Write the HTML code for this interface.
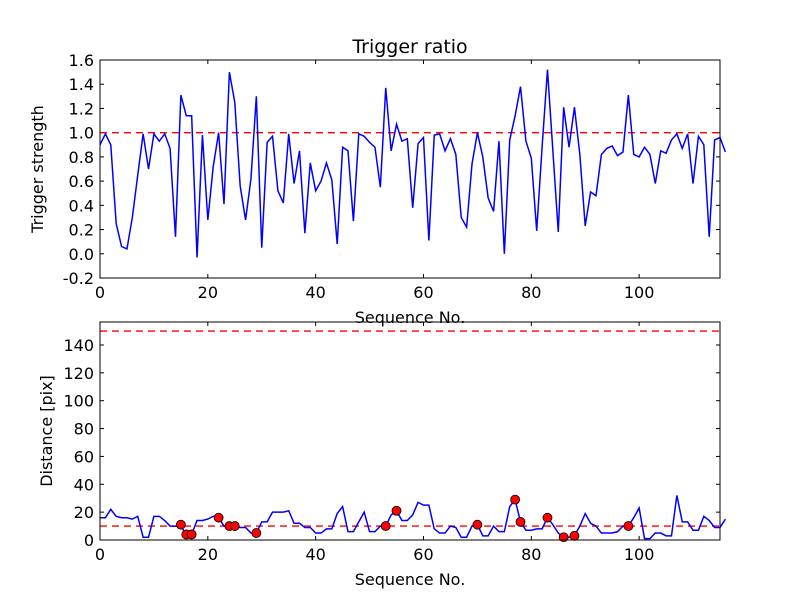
<!DOCTYPE html>
<html><head><meta charset="utf-8">
<style>
html,body{margin:0;padding:0;background:#fff;}
svg{display:block;font-family:"DejaVu Sans","Liberation Sans",sans-serif;}
</style></head>
<body>
<svg id="chart" width="800" height="600" viewBox="0 0 800 600"></svg>
<script>
const ratioValues=[0.90,0.99,0.90,0.25,0.06,0.04,0.30,0.65,0.99,0.70,0.99,0.93,0.99,0.87,0.14,1.31,1.14,1.14,-0.03,0.98,0.28,0.72,1.00,0.41,1.50,1.25,0.56,0.28,0.62,1.30,0.05,0.92,0.97,0.52,0.42,0.99,0.58,0.85,0.17,0.75,0.52,0.60,0.75,0.61,0.08,0.88,0.85,0.27,0.99,0.97,0.92,0.88,0.55,1.37,0.85,1.07,0.93,0.95,0.38,0.91,0.96,0.11,0.98,0.99,0.85,0.95,0.82,0.30,0.22,0.74,1.00,0.80,0.46,0.35,0.93,0.00,0.94,1.14,1.38,0.93,0.79,0.19,0.88,1.52,0.85,0.18,1.21,0.88,1.21,0.82,0.23,0.51,0.48,0.82,0.87,0.89,0.81,0.84,1.31,0.82,0.80,0.88,0.82,0.58,0.85,0.83,0.94,0.99,0.87,0.99,0.58,0.97,0.90,0.14,0.94,0.96,0.84];
const distValues=[16,16,22,17,16,16,15,17,2,2,17,17,14,10,10,10,4,4,14,14,15,17,16,10,10,10,9,9,5,5,13,13,20,20,20,21,12,12,9,9,5,5,8,8,19,24,6,6,13,20,6,6,10,10,18,21,14,14,18,27,25,25,8,5,5,10,9,2,2,10,11,3,3,10,6,6,24,29,13,7,7,8,8,16,11,5,2,2,3,10,19,12,10,5,5,5,6,10,10,16,23,1,1,5,5,3,3,32,13,13,7,7,17,14,9,9,15];
const markerIdx=[15,16,17,22,24,25,29,53,55,70,77,78,83,86,88,98];
const markerVals=[11,4,4,16,10,10,5,10,21,11,29,13,16,2,3,10];
const xTicks=[0,20,40,60,80,100];
const topYTicks=[-0.2,0.0,0.2,0.4,0.6,0.8,1.0,1.2,1.4,1.6];
const botYTicks=[0,20,40,60,80,100,120,140];
const ratioThreshold=1.0, distThreshold=10, distLimit=150;

const NS="http://www.w3.org/2000/svg";
const svg=document.getElementById('chart');
function mk(tag,attrs,parent,text){const e=document.createElementNS(NS,tag);for(const k in attrs)e.setAttribute(k,attrs[k]);if(text!==undefined)e.textContent=text;(parent||svg).appendChild(e);return e;}
const L=100,R=720;
const xs=v=>L+(v/115)*(R-L);
const T={top:60,bot:278,min:-0.2,max:1.6};
const B={top:322,bot:540,min:0,max:156.5};
const ys=(ax,v)=>ax.bot-(v-ax.min)/(ax.max-ax.min)*(ax.bot-ax.top);

function axes(ax,yt,fmt,name){
  const g=mk('g',{});
  
  
  xTicks.forEach(t=>{const x=xs(t);
    mk('line',{x1:x,x2:x,y1:ax.bot,y2:ax.bot-4,stroke:'#000'},g);
    mk('line',{x1:x,x2:x,y1:ax.top,y2:ax.top+4,stroke:'#000'},g);
    const tl=mk('text',{x:x,y:ax.bot+20,'text-anchor':'middle','font-size':16},g,String(t));
    
    
  });
  yt.forEach(t=>{const y=ys(ax,t);
    mk('line',{x1:L,x2:L+4,y1:y,y2:y,stroke:'#000'},g);
    mk('line',{x1:R,x2:R-4,y1:y,y2:y,stroke:'#000'},g);
    const tl=mk('text',{x:L-6,y:y+6,'text-anchor':'end','font-size':16},g,fmt(t));
    
    
  });
  return g;
}
function frame(ax,name){const r=mk('rect',{x:L,y:ax.top,width:R-L,height:ax.bot-ax.top,fill:'none',stroke:'#000','stroke-width':1});
  }

// top plot
axes(T,topYTicks,t=>t.toFixed(1),'top-axes');
let h=mk('line',{x1:L,x2:R,y1:ys(T,ratioThreshold),y2:ys(T,ratioThreshold),stroke:'#f00','stroke-dasharray':'7,5','stroke-width':1.3});

let p=mk('polyline',{points:ratioValues.map((v,i)=>xs(i)+','+ys(T,v)).join(' '),fill:'none',stroke:'#00f','stroke-width':1.5});

frame(T,'top-plot-frame');
let t1=mk('text',{x:410,y:53,'text-anchor':'middle','font-size':19},svg,'Trigger ratio');

let yl=mk('text',{x:0,y:0,'text-anchor':'middle','font-size':16,transform:'translate(43,169) rotate(-90)'},svg,'Trigger strength');

let xl=mk('text',{x:410,y:323,'text-anchor':'middle','font-size':16},svg,'Sequence No.');


// bottom plot
axes(B,botYTicks,t=>String(t),'bottom-axes');
h=mk('line',{x1:L,x2:R,y1:ys(B,distThreshold),y2:ys(B,distThreshold),stroke:'#f00','stroke-dasharray':'7,5','stroke-width':1.3});

h=mk('line',{x1:L,x2:R,y1:ys(B,distLimit),y2:ys(B,distLimit),stroke:'#f00','stroke-dasharray':'7,5','stroke-width':1.3});

p=mk('polyline',{points:distValues.map((v,i)=>xs(i)+','+ys(B,v)).join(' '),fill:'none',stroke:'#00f','stroke-width':1.5});

markerIdx.forEach((ix,k)=>{
  const c=mk('circle',{cx:xs(ix),cy:ys(B,markerVals[k]),r:4.5,fill:'#f00',stroke:'#000','stroke-width':0.8});
  
  
});
frame(B,'bottom-plot-frame');
yl=mk('text',{x:0,y:0,'text-anchor':'middle','font-size':16,transform:'translate(52,431) rotate(-90)'},svg,'Distance [pix]');

xl=mk('text',{x:410,y:585,'text-anchor':'middle','font-size':16},svg,'Sequence No.');

</script>
</body></html>
